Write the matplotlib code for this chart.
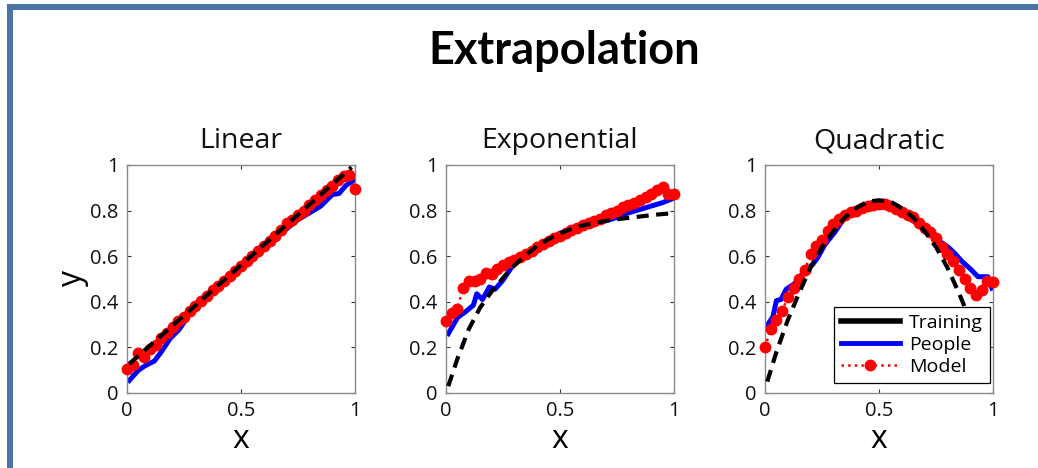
import matplotlib
matplotlib.use("Agg")
import matplotlib.pyplot as plt
from matplotlib.lines import Line2D
from matplotlib.patches import Rectangle

plt.rcParams['font.family'] = ['Open Sans', 'DejaVu Sans']

# sample positions of the model curve
x_model = [0.0, 0.025, 0.05, 0.075, 0.1, 0.125, 0.15, 0.175, 0.2, 0.225,
           0.25, 0.275, 0.3, 0.325, 0.35, 0.375, 0.4, 0.425, 0.45, 0.475,
           0.5, 0.525, 0.55, 0.575, 0.6, 0.625, 0.65, 0.675, 0.7, 0.725,
           0.75, 0.775, 0.8, 0.825, 0.85, 0.875, 0.9, 0.925, 0.95, 0.975, 1.0]

# Linear
lin_train_x = [0.01, 0.985]
lin_train_y = [0.128, 0.99]
lin_people_x = [0.01, 0.05, 0.08, 0.12, 0.15, 0.19, 0.23, 0.27, 0.30, 0.35, 0.4,
                0.5, 0.6, 0.7, 0.75, 0.8, 0.85, 0.88, 0.9, 0.93, 0.96, 1.0]
lin_people_y = [0.055, 0.10, 0.12, 0.14, 0.18, 0.24, 0.28, 0.34, 0.39, 0.43, 0.47,
                0.56, 0.65, 0.72, 0.76, 0.79, 0.82, 0.85, 0.87, 0.875, 0.91, 0.935]
lin_model_y = [0.105, 0.125, 0.175, 0.16, 0.195, 0.21, 0.24, 0.265, 0.29, 0.315,
               0.335, 0.36, 0.38, 0.405, 0.425, 0.45, 0.47, 0.49, 0.515, 0.535,
               0.555, 0.58, 0.60, 0.625, 0.645, 0.665, 0.69, 0.715, 0.745, 0.76,
               0.78, 0.80, 0.825, 0.845, 0.87, 0.89, 0.91, 0.935, 0.95, 0.955, 0.895]

# Exponential
exp_train_x = [0.01, 0.05, 0.1, 0.15, 0.2, 0.25, 0.3, 0.35, 0.4, 0.45, 0.5,
               0.55, 0.6, 0.65, 0.7, 0.75, 0.8, 0.85, 0.9, 0.95, 0.99]
exp_train_y = [0.03, 0.15, 0.28, 0.375, 0.445, 0.505, 0.56, 0.605, 0.645, 0.675, 0.70,
               0.72, 0.735, 0.745, 0.755, 0.762, 0.768, 0.774, 0.78, 0.785, 0.788]
exp_people_x = [0.01, 0.05, 0.09, 0.12, 0.135, 0.16, 0.19, 0.215, 0.25, 0.29, 0.34,
                0.4, 0.5, 0.6, 0.7, 0.75, 0.8, 0.85, 0.9, 0.95, 1.0]
exp_people_y = [0.26, 0.33, 0.36, 0.385, 0.435, 0.41, 0.465, 0.455, 0.495, 0.555, 0.60,
                0.645, 0.70, 0.735, 0.755, 0.77, 0.79, 0.805, 0.82, 0.835, 0.855]
exp_model_y = [0.315, 0.35, 0.37, 0.46, 0.49, 0.49, 0.50, 0.525, 0.52, 0.545,
               0.56, 0.575, 0.585, 0.595, 0.61, 0.625, 0.64, 0.655, 0.665, 0.68,
               0.69, 0.70, 0.715, 0.725, 0.735, 0.745, 0.755, 0.765, 0.78, 0.79,
               0.80, 0.815, 0.825, 0.835, 0.845, 0.86, 0.875, 0.89, 0.905, 0.875, 0.875]

# Quadratic
quad_train_x = [0.01, 0.05, 0.1, 0.15, 0.2, 0.25, 0.3, 0.35, 0.4, 0.45, 0.5,
                0.55, 0.6, 0.65, 0.7, 0.75, 0.8, 0.85, 0.9, 0.95, 0.98]
quad_train_y = [0.05, 0.18, 0.32, 0.44, 0.55, 0.64, 0.71, 0.77, 0.81, 0.84, 0.845,
                0.84, 0.81, 0.77, 0.71, 0.64, 0.55, 0.44, 0.32, 0.18, 0.08]
quad_people_x = [0.005, 0.035, 0.05, 0.07, 0.093, 0.13, 0.174, 0.21, 0.232, 0.262,
                 0.306, 0.35, 0.408, 0.45, 0.496, 0.54, 0.583, 0.63, 0.671, 0.72,
                 0.759, 0.803, 0.83, 0.861, 0.905, 0.934, 0.978, 0.995]
quad_people_y = [0.29, 0.335, 0.405, 0.41, 0.455, 0.48, 0.535, 0.565, 0.595, 0.65,
                 0.705, 0.77, 0.815, 0.825, 0.815, 0.82, 0.795, 0.77, 0.74, 0.70,
                 0.67, 0.64, 0.615, 0.58, 0.54, 0.51, 0.51, 0.46]
quad_model_y = [0.20, 0.28, 0.32, 0.36, 0.42, 0.46, 0.50, 0.54, 0.61, 0.645,
                0.67, 0.71, 0.74, 0.765, 0.78, 0.795, 0.80, 0.81, 0.82, 0.825,
                0.83, 0.83, 0.82, 0.805, 0.795, 0.78, 0.77, 0.745, 0.725, 0.705,
                0.68, 0.64, 0.61, 0.58, 0.54, 0.50, 0.46, 0.43, 0.45, 0.49, 0.485]

panels = [
    ("Linear", lin_train_x, lin_train_y, lin_people_x, lin_people_y, lin_model_y),
    ("Exponential", exp_train_x, exp_train_y, exp_people_x, exp_people_y, exp_model_y),
    ("Quadratic", quad_train_x, quad_train_y, quad_people_x, quad_people_y, quad_model_y),
]

W, H = 1038, 468
fig = plt.figure(figsize=(W / 100, H / 100), dpi=100)

# slide frame
fig.patches.append(Rectangle((7 / W, 1 - 9.5 / H), 1, 5.5 / H, transform=fig.transFigure,
                             facecolor='#4a73a6', edgecolor='none'))
fig.patches.append(Rectangle((7 / W, 0), 6 / W, 1 - 4 / H, transform=fig.transFigure,
                             facecolor='#4a73a6', edgecolor='none'))

fig.text(564 / W, 1 - 64 / H, "Extrapolation", ha='center', va='baseline',
         fontsize=32.5, fontweight='bold', family=['Lato', 'DejaVu Sans'])

lefts = [127, 446, 765]
spine_col = '#8a8a8a'
for left, (title, tx, ty, px, py, my) in zip(lefts, panels):
    ax = fig.add_axes([left / W, (H - 393) / H, 228 / W, 228 / H])
    ax.plot(px, py, color='#0000ff', lw=3.6, solid_joinstyle='round', zorder=2)
    ax.plot(x_model, my, color='#ff0000', ls=':', lw=1.8, marker='o', ms=7.5,
            mec='#ff0000', clip_on=False, zorder=3)
    ax.plot(tx, ty, color='black', lw=3, ls=(0, (2.9, 1.8)), zorder=4)
    ax.set_xlim(0, 1)
    ax.set_ylim(0, 1)
    ax.set_xticks([0, 0.5, 1])
    ax.set_xticklabels(['0', '0.5', '1'])
    ax.set_yticks([0, 0.2, 0.4, 0.6, 0.8, 1])
    ax.set_yticklabels(['0', '0.2', '0.4', '0.6', '0.8', '1'])
    ax.tick_params(direction='in', top=True, right=True, length=3, width=0.8,
                   color='#333333', labelsize=14.5, labelcolor='#111111')
    ax.tick_params(axis='x', pad=6)
    ax.tick_params(axis='y', pad=6)
    for s in ax.spines.values():
        s.set_color(spine_col)
        s.set_linewidth(1.0)
    ax.set_title(title, fontsize=20.5, pad=12, color='#111111')
    ax.set_xlabel('x', fontsize=23, va='baseline')
    ax.xaxis.set_label_coords(0.5, -0.241)
    if left == 127:
        ax.set_ylabel('y', fontsize=23, va='center')
        ax.yaxis.set_label_coords(-0.241, 0.5)
    if title == "Quadratic":
        handles = [Line2D([], [], color='black', lw=4),
                   Line2D([], [], color='#0000ff', lw=3.5),
                   Line2D([], [], color='#ff0000', ls=':', lw=1.8, marker='o', ms=7.5)]
        leg = ax.legend(handles, ['Training', 'People', 'Model'], loc='lower right',
                        bbox_to_anchor=(0.987, 0.044), fontsize=14, fancybox=False,
                        edgecolor='black', framealpha=1, handlelength=3.0,
                        borderpad=0.35, labelspacing=0.22, handletextpad=0.5,
                        borderaxespad=0)
        leg.get_frame().set_linewidth(0.9)
        leg.set_zorder(10)

fig.savefig('out.png', dpi=100)
